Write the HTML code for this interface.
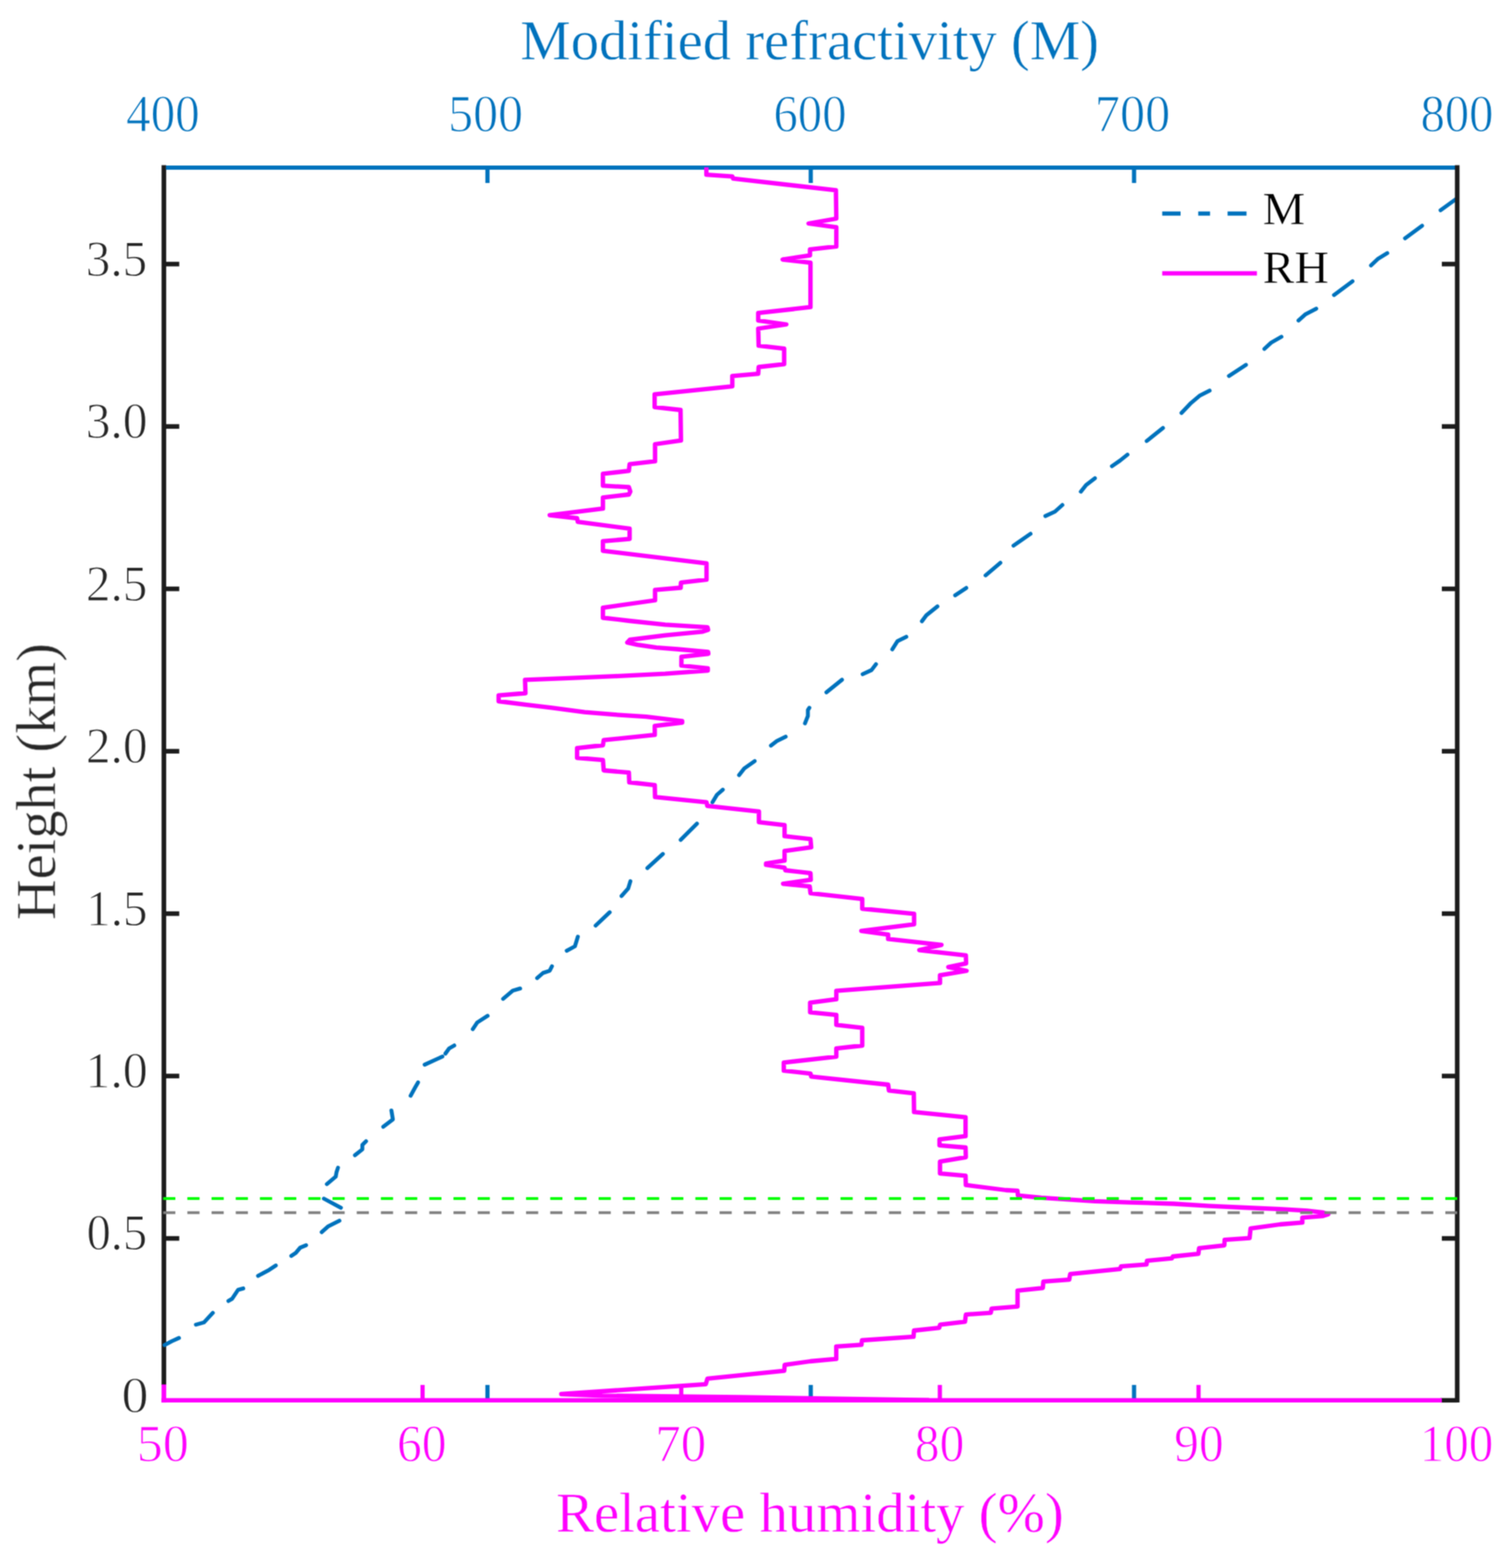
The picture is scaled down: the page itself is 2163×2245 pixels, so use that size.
<!DOCTYPE html>
<html lang="en"><head><meta charset="utf-8"><title>Modified refractivity and relative humidity profile</title>
<style>html,body{margin:0;padding:0;background:#fff}body{width:2163px;height:2245px;overflow:hidden}svg{display:block}text{font-family:"Liberation Serif","DejaVu Serif",serif;text-rendering:geometricPrecision}</style></head><body>
<svg width="2163" height="2245" viewBox="0 0 2163 2245">
<rect width="2163" height="2245" fill="#fff"/>
<defs><filter id="soft" x="0" y="0" width="100%" height="100%" filterUnits="userSpaceOnUse" color-interpolation-filters="sRGB"><feConvolveMatrix order="3" kernelMatrix="1 2 1 2 4 2 1 2 1" divisor="16" edgeMode="none" preserveAlpha="false"/></filter></defs>
<g filter="url(#soft)">
<g stroke="#1c1c1c" stroke-width="6.6" fill="none">
<path d="M234.6,236.5 V1983"/>
<path d="M234.6,1773.1 h22"/>
<path d="M234.6,1540.6 h22"/>
<path d="M234.6,1308.1 h22"/>
<path d="M234.6,1075.6 h22"/>
<path d="M234.6,843.1 h22"/>
<path d="M234.6,610.6 h22"/>
<path d="M234.6,378.1 h22"/>
</g>
<g stroke="#ff00ff" stroke-width="6.0" fill="none">
<path d="M604.9,2004.9 v-22"/>
<path d="M975.2,2004.9 v-22"/>
<path d="M1345.4,2004.9 v-22"/>
<path d="M1715.7,2004.9 v-22"/>
</g>
<g stroke="#0072bd" stroke-width="6.0" fill="none">
<path d="M237.6,240.0 H2083.0"/>
<path d="M697.8,240.0 v22"/>
<path d="M697.8,2004.9 v-22"/>
<path d="M1160.6,240.0 v22"/>
<path d="M1160.6,2004.9 v-22"/>
<path d="M1623.4,240.0 v22"/>
<path d="M1623.4,2004.9 v-22"/>
</g>
<g stroke="#0072bd" stroke-width="5.6" fill="none" stroke-linejoin="round" stroke-linecap="round">
<polyline points="235.6,1925.8 246.0,1920.2 256.2,1915.6"/>
<polyline points="280.4,1896.6 292.0,1893.4 304.7,1879.7"/>
<polyline points="327.0,1862.7 332.3,1859.5 340.8,1846.8 348.2,1844.7"/>
<polyline points="369.4,1826.7 385.3,1818.2 394.8,1811.9"/>
<polyline points="417.0,1798.1 423.4,1793.9 429.7,1786.4 438.2,1782.8"/>
<polyline points="460.5,1764.2 470.0,1755.7 485.9,1747.7"/>
<polyline points="488.0,1729.2 463.6,1716.1"/>
<polyline points="467.9,1695.3 480.6,1684.7 481.7,1678.4 483.8,1672.0"/>
<polyline points="508.1,1654.0 518.7,1645.6 518.7,1639.2 524.0,1633.9"/>
<polyline points="548.6,1613.3 562.4,1602.8 560.3,1590.0"/>
<polyline points="587.8,1568.9 594.2,1557.2 598.4,1549.8"/>
<polyline points="607.9,1524.4 633.3,1512.7"/>
<polyline points="637.6,1508.5 642.9,1501.1 650.3,1496.8"/>
<polyline points="676.8,1473.5 683.1,1464.0 698.0,1454.4"/>
<polyline points="720.2,1430.1 734.0,1418.4 744.6,1415.3"/>
<polyline points="768.9,1400.4 777.4,1393.0 786.9,1389.8 790.1,1383.5"/>
<polyline points="811.3,1361.2 823.0,1354.9 827.2,1341.1"/>
<polyline points="852.6,1325.2 872.8,1306.1"/>
<polyline points="889.7,1282.8 899.2,1272.2 902.4,1261.7"/>
<polyline points="926.7,1242.8 948.9,1222.7"/>
<polyline points="974.4,1202.6 997.7,1179.3"/>
<polyline points="1019.9,1148.6 1026.3,1138.0 1034.7,1130.6"/>
<polyline points="1058.0,1109.8 1065.4,1100.3 1080.3,1089.7"/>
<polyline points="1103.6,1067.5 1112.0,1061.1 1124.7,1054.7"/>
<polyline points="1152.3,1035.7 1156.5,1025.1 1156.5,1016.6 1158.6,1013.4"/>
<polyline points="1183.0,991.2 1205.3,973.2"/>
<polyline points="1234.9,965.3 1247.6,959.4 1254.0,950.9"/>
<polyline points="1277.3,929.7 1284.7,918.1 1297.4,911.7"/>
<polyline points="1319.7,889.5 1326.0,881.0 1341.9,868.3"/>
<polyline points="1367.3,852.4 1383.2,841.8"/>
<polyline points="1410.8,823.8 1432.0,805.8"/>
<polyline points="1450.8,781.2 1475.2,764.3"/>
<polyline points="1496.4,738.9 1510.2,732.5 1520.8,723.0"/>
<polyline points="1547.2,703.9 1554.7,694.4 1567.4,684.8"/>
<polyline points="1591.7,667.5 1603.4,659.4 1614.0,650.9"/>
<polyline points="1641.5,631.4 1664.8,612.8"/>
<polyline points="1691.3,591.2 1705.1,576.8 1717.8,566.2 1731.6,559.2"/>
<polyline points="1759.2,538.3 1783.6,522.4"/>
<polyline points="1810.0,499.5 1819.6,490.6 1834.4,482.1"/>
<polyline points="1858.8,458.8 1868.3,450.3 1884.2,441.9"/>
<polyline points="1909.6,422.4 1936.1,402.7"/>
<polyline points="1962.6,380.0 1972.1,370.9 1985.9,362.4"/>
<polyline points="2011.3,341.2 2035.7,323.2"/>
<polyline points="2062.2,301.0 2085.0,284.5"/>
</g>
<g stroke="#1c1c1c" stroke-width="6.6" fill="none">
<path d="M2086.0,236.5 V2008.1000000000001"/>
<path d="M2062,2004.9 H2086.0" stroke-width="6.4"/>
<path d="M2086.0,1773.1 h-22"/>
<path d="M2086.0,1540.6 h-22"/>
<path d="M2086.0,1308.1 h-22"/>
<path d="M2086.0,1075.6 h-22"/>
<path d="M2086.0,843.1 h-22"/>
<path d="M2086.0,610.6 h-22"/>
<path d="M2086.0,378.1 h-22"/>
</g>
<g stroke="#ff00ff" stroke-width="6.3" fill="none" stroke-linejoin="round">
<polyline points="1011.2,239.6 1011.2,250.2 1048.3,252.7 1049.4,255.6 1196.6,272.4 1197.2,313.0 1157.4,320.0 1197.2,325.3 1197.2,352.9 1159.5,357.1 1159.5,365.6 1120.3,371.5 1160.2,376.2 1160.2,439.7 1085.4,448.2 1085.4,458.8 1125.6,464.5 1085.4,470.5 1086.0,494.8 1122.5,499.1 1122.5,521.3 1086.0,525.5 1085.4,535.1 1048.3,538.3 1048.3,553.1 937.1,564.7 937.1,582.8 974.2,587.0 974.8,630.7 937.7,636.0 937.7,660.4 901.3,664.6 900.2,674.2 863.1,678.4 863.1,695.3 900.2,697.5 902.3,703.8 900.2,708.0 863.1,712.3 863.1,728.2 786.9,737.7 826.1,742.0 827.1,747.2 901.3,756.8 901.3,771.6 863.1,774.8 863.1,788.6 1011.4,806.6 1011.4,829.9 974.8,834.1 974.4,841.5 937.7,844.7 937.7,859.5 863.1,870.1 863.1,884.5 901.7,889.0 952.1,894.4 1012.8,898.2 1013.6,901.8 1006.0,904.3 952.1,909.7 901.7,916.0 898.0,920.0 912.5,923.2 939.5,927.2 970.1,929.5 1013.6,933.3 1014.0,936.0 975.5,940.3 975.4,952.9 1013.2,956.8 1013.2,960.1 952.1,964.6 880.1,968.2 815.3,970.9 751.6,973.3 752.2,992.5 713.8,995.6 713.8,1004.0 752.2,1008.8 790.0,1013.3 836.9,1019.6 880.1,1023.2 925.1,1026.2 976.5,1032.3 976.5,1034.5 937.3,1039.4 937.3,1052.2 864.2,1059.6 863.1,1067.0 826.1,1071.2 826.1,1085.0 863.1,1088.2 864.2,1103.0 900.2,1106.2 900.8,1120.0 937.3,1124.2 937.7,1141.1 1011.4,1148.6 1012.5,1153.9 1086.4,1161.8 1086.4,1177.1 1123.1,1181.3 1123.1,1197.2 1160.2,1201.4 1161.2,1213.1 1123.1,1218.4 1123.1,1232.2 1096.6,1236.4 1096.6,1238.2 1123.1,1242.3 1124.2,1246.0 1160.2,1250.2 1160.6,1259.7 1121.0,1265.4 1159.1,1269.2 1160.2,1278.8 1234.3,1287.2 1234.3,1301.0 1308.5,1308.4 1308.5,1323.3 1233.0,1332.8 1271.4,1338.1 1271.4,1344.4 1347.7,1352.9 1316.0,1360.3 1382.6,1367.8 1383.0,1379.4 1357.5,1384.7 1383.7,1390.0 1345.6,1396.4 1345.6,1407.4 1197.2,1418.6 1197.2,1430.7 1159.7,1435.6 1159.7,1449.3 1197.2,1453.1 1197.2,1467.3 1234.3,1471.6 1234.3,1497.0 1197.2,1501.2 1197.2,1512.8 1122.0,1521.3 1122.0,1532.9 1160.2,1537.1 1161.2,1541.3 1271.4,1553.0 1272.5,1561.4 1308.1,1565.3 1308.5,1592.2 1382.2,1599.6 1382.2,1626.7 1344.9,1631.4 1344.9,1639.8 1382.2,1643.0 1382.6,1656.8 1345.6,1663.1 1345.6,1680.1 1382.2,1683.3 1382.6,1696.6 1440.0,1704.0 1456.5,1704.8 1457.2,1711.6 1490.8,1714.8 1529.0,1717.3 1567.1,1719.9 1618.0,1721.6 1680.0,1723.5 1730.8,1726.7 1781.7,1729.0 1832.5,1731.1 1870.7,1733.3 1893.0,1735.8 1901.5,1738.6 1893.0,1741.2 1864.3,1743.4 1864.3,1750.4 1832.5,1753.0 1790.2,1758.8 1788.8,1772.6 1753.1,1775.2 1752.6,1783.1 1716.5,1787.1 1715.5,1795.1 1678.9,1799.0 1677.6,1801.7 1641.9,1805.1 1641.3,1810.4 1604.8,1813.1 1603.5,1816.8 1532.0,1824.2 1530.6,1832.1 1493.6,1834.8 1492.8,1844.1 1456.6,1847.9 1456.6,1870.6 1419.5,1873.7 1418.3,1879.6 1382.7,1882.1 1381.4,1892.3 1345.8,1896.6 1344.5,1901.2 1308.4,1905.0 1307.7,1913.9 1233.9,1919.0 1233.2,1925.3 1197.1,1927.9 1197.1,1945.7 1160.2,1949.0 1123.3,1954.1 1122.6,1962.7 1012.7,1973.9 1010.3,1981.9 900.0,1989.4 803.5,1996.0 862.0,1998.3 1060.0,2000.4 1330.0,2004.6"/>
<path d="M234.6,1982.2 V2008.1000000000001" stroke-width="6.6"/>
<path d="M231.1,2004.9 H2064" stroke-width="6.4"/>
</g>
<path d="M233.6,1716 H2086.0" stroke="#00ff00" stroke-width="3.9" stroke-dasharray="17.4 17.23" fill="none"/>
<path d="M233.6,1736.3 H2086.0" stroke="#808080" stroke-width="3.9" stroke-dasharray="17.4 17.23" fill="none"/>
<path d="M1663.7,305.8 H1690 M1715.3,305.8 H1732.2 M1757.3,305.8 H1784.4" stroke="#0072bd" stroke-width="6.0" fill="none"/>
<path d="M1663.7,391.4 H1799.3" stroke="#ff00ff" stroke-width="6.3" fill="none"/>
<text x="744.84" y="85.00" font-size="80.85" fill="#0072bd" stroke="#fff" stroke-width="0.6" textLength="828.48" lengthAdjust="spacingAndGlyphs">Modified refractivity (M)</text>
<text x="795.93" y="2193.40" font-size="80.87" fill="#ff00ff" stroke="#fff" stroke-width="0.6" textLength="726.98" lengthAdjust="spacingAndGlyphs">Relative humidity (%)</text>
<text transform="translate(78.80,1317.35) rotate(-90)" font-size="80.87" fill="#262626" stroke="#fff" stroke-width="0.6" textLength="396.64" lengthAdjust="spacingAndGlyphs">Height (km)</text>
<text x="1807.59" y="321.45" font-size="66.06" fill="#000" stroke="#fff" stroke-width="0.5" textLength="60.77" lengthAdjust="spacingAndGlyphs">M</text>
<text x="1807.59" y="405.35" font-size="66.06" fill="#000" stroke="#fff" stroke-width="0.5" textLength="94.73" lengthAdjust="spacingAndGlyphs">RH</text>
<text x="180.62" y="187.50" font-size="75.31" fill="#0072bd" stroke="#fff" stroke-width="1.2" textLength="105.39" lengthAdjust="spacingAndGlyphs">400</text>
<text x="641.41" y="187.50" font-size="75.31" fill="#0072bd" stroke="#fff" stroke-width="1.2" textLength="107.35" lengthAdjust="spacingAndGlyphs">500</text>
<text x="1107.17" y="187.50" font-size="75.31" fill="#0072bd" stroke="#fff" stroke-width="1.2" textLength="104.62" lengthAdjust="spacingAndGlyphs">600</text>
<text x="1567.36" y="187.50" font-size="75.31" fill="#0072bd" stroke="#fff" stroke-width="1.2" textLength="107.91" lengthAdjust="spacingAndGlyphs">700</text>
<text x="2033.41" y="187.50" font-size="75.31" fill="#0072bd" stroke="#fff" stroke-width="1.2" textLength="104.47" lengthAdjust="spacingAndGlyphs">800</text>
<text x="195.63" y="2091.90" font-size="75.31" fill="#ff00ff" stroke="#fff" stroke-width="1.2" textLength="74.66" lengthAdjust="spacingAndGlyphs">50</text>
<text x="568.32" y="2091.90" font-size="75.31" fill="#ff00ff" stroke="#fff" stroke-width="1.2" textLength="70.93" lengthAdjust="spacingAndGlyphs">60</text>
<text x="937.99" y="2091.90" font-size="75.31" fill="#ff00ff" stroke="#fff" stroke-width="1.2" textLength="73.04" lengthAdjust="spacingAndGlyphs">70</text>
<text x="1309.57" y="2091.90" font-size="75.31" fill="#ff00ff" stroke="#fff" stroke-width="1.2" textLength="70.88" lengthAdjust="spacingAndGlyphs">80</text>
<text x="1680.87" y="2091.90" font-size="75.31" fill="#ff00ff" stroke="#fff" stroke-width="1.2" textLength="70.97" lengthAdjust="spacingAndGlyphs">90</text>
<text x="2032.22" y="2091.90" font-size="75.31" fill="#ff00ff" stroke="#fff" stroke-width="1.2" textLength="105.50" lengthAdjust="spacingAndGlyphs">100</text>
<text x="174.05" y="2021.70" font-size="72.8" fill="#262626" stroke="#fff" stroke-width="1.2" textLength="38.53" lengthAdjust="spacingAndGlyphs">0</text>
<text x="123.95" y="1789.32" font-size="72.8" fill="#262626" stroke="#fff" stroke-width="1.2" textLength="86.70" lengthAdjust="spacingAndGlyphs">0.5</text>
<text x="122.19" y="1556.95" font-size="72.81" fill="#262626" stroke="#fff" stroke-width="1.2" textLength="89.48" lengthAdjust="spacingAndGlyphs">1.0</text>
<text x="123.20" y="1324.57" font-size="72.82" fill="#262626" stroke="#fff" stroke-width="1.2" textLength="87.99" lengthAdjust="spacingAndGlyphs">1.5</text>
<text x="122.97" y="1092.20" font-size="72.81" fill="#262626" stroke="#fff" stroke-width="1.2" textLength="88.26" lengthAdjust="spacingAndGlyphs">2.0</text>
<text x="122.99" y="859.82" font-size="72.81" fill="#262626" stroke="#fff" stroke-width="1.2" textLength="87.90" lengthAdjust="spacingAndGlyphs">2.5</text>
<text x="122.66" y="627.45" font-size="72.81" fill="#262626" stroke="#fff" stroke-width="1.2" textLength="88.58" lengthAdjust="spacingAndGlyphs">3.0</text>
<text x="122.69" y="395.07" font-size="72.81" fill="#262626" stroke="#fff" stroke-width="1.2" textLength="88.00" lengthAdjust="spacingAndGlyphs">3.5</text>
</g>
</svg></body></html>
